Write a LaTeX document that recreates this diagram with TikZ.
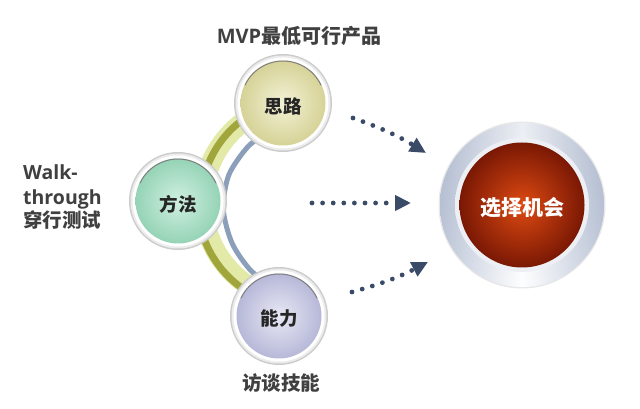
\documentclass[tikz,border=0pt]{standalone}
\usepackage{fontspec}
\setmainfont{Noto Sans CJK SC}
\newfontfamily\latfont{Open Sans}
\usetikzlibrary{arrows.meta,calc}
\definecolor{textc}{HTML}{404040}
\definecolor{labc}{HTML}{262626}
\definecolor{bandY}{HTML}{E3E9A6}
\definecolor{bandO}{HTML}{A0A63C}
\definecolor{stripeB}{HTML}{8B9FBA}
\definecolor{yIn}{HTML}{F3F2D6}
\definecolor{yOut}{HTML}{D6D297}
\definecolor{gIn}{HTML}{D0F0E1}
\definecolor{gOut}{HTML}{95D3B6}
\definecolor{pIn}{HTML}{E8E8F5}
\definecolor{pOut}{HTML}{B7B8D8}
\definecolor{redIn}{HTML}{DE4A12}
\definecolor{redOut}{HTML}{7A1804}
\definecolor{ringc}{HTML}{8293B4}
\definecolor{dotc}{HTML}{3A4B68}
\tikzset{
  lbl/.style={text=textc, font=\bfseries\fontsize{19.5}{23}\selectfont, inner sep=0pt},
  balllbl/.style={text=labc, font=\bfseries\fontsize{18.5}{22}\selectfont, inner sep=0pt},
  ballshape/.style={circle, minimum size=98pt, inner sep=0pt},
  dotline/.style={line width=4.8pt, dash pattern=on 0pt off 10.6pt, line cap=round,
    color=dotc, -{Triangle[length=16pt,width=15pt]}}
}
\newcommand{\mkball}[5]{%
  \fill[gray!40] (#2) circle (49pt);
  \fill[gray!15] (#2) circle (47.5pt);
  \fill[white] (#2) circle (45.5pt);
  \shade[inner color=#3, outer color=#4] (#2) circle (42.5pt);
  \draw[black!50, line width=1pt] ($(#2)+(25:42)$) arc[start angle=25, end angle=155, radius=42pt];
  \node[ballshape] (#1) at (#2) {};
  \node[balllbl] (#1-t) at ($(#2)+(0,-3)$) {#5};
}
\begin{document}
\begin{tikzpicture}[x=1pt,y=1pt]
\useasboundingbox (0,0) rectangle (640,409);
\coordinate (A) at (303,207);
\coordinate (S) at (283,306);
\coordinate (F) at (178,208);
\coordinate (N) at (279,93);
\coordinate (X) at (522,204);
% arc band
\draw[line width=20pt, bandY] ($(A)+(110:100)$) arc[start angle=110, end angle=252, radius=100pt];
\draw[line width=7pt, bandO] ($(A)+(110:102)$) arc[start angle=110, end angle=181, radius=102pt];
\draw[line width=7pt, bandO] ($(A)+(180:105.5)$) arc[start angle=180, end angle=252, radius=105.5pt];
\draw[line width=5pt, stripeB] plot[smooth] coordinates {(266.4,275.9) (247.8,262.2) (228.8,234) (223.3,200) (232,166) (250.1,139.2) (269.7,124.5)};
% small balls
\mkball{siLu}{S}{yIn}{yOut}{思路}
\mkball{fangFa}{F}{gIn}{gOut}{方法}
\mkball{nengLi}{N}{pIn}{pOut}{能力}
% big ball
\fill[gray!18] (X) circle (83.5pt);
\shade[left color=ringc, right color=ringc, middle color=white] (X) circle (82pt);
\shade[top color=white!70!ringc, bottom color=white, opacity=0.5] (X) circle (82pt);
\shade[inner color=white, outer color=white!85!ringc] (X) circle (67pt);
\shade[inner color=redIn, outer color=redOut] (X) circle (62.5pt);
\node[ballshape, minimum size=164pt] (xuanZe) at (X) {};
\node[text=white, font=\bfseries\fontsize{21}{25}\selectfont, inner sep=0pt] (xuanZe-t) at (522.5,201) {选择机会};
% arrows
\coordinate (t1) at (353,291); \coordinate (t2) at (426,256);
\coordinate (m1) at (312,206); \coordinate (m2) at (411,206);
\coordinate (b1) at (352,117); \coordinate (b2) at (428,147);
\draw[dotline] (t1) to[bend left=6] (t2);
\draw[dotline] (m1) -- (m2);
\draw[dotline] (b1) to[bend right=6] (b2);
% texts
\node[lbl, font=\bfseries\fontsize{20}{24}\selectfont, anchor=base] (mvp) at (299,365.5) {{\latfont MVP}最低可行产品};
\node[lbl, anchor=base west] (walk1) at (23,229) {\latfont Walk-};
\node[lbl, anchor=base west] (walk2) at (23,204.5) {\latfont through};
\node[lbl, anchor=base west] (walk3) at (23,181) {穿行测试};
\node[lbl, anchor=base] (fangTan) at (281,18) {访谈技能};
\end{tikzpicture}
\end{document}
